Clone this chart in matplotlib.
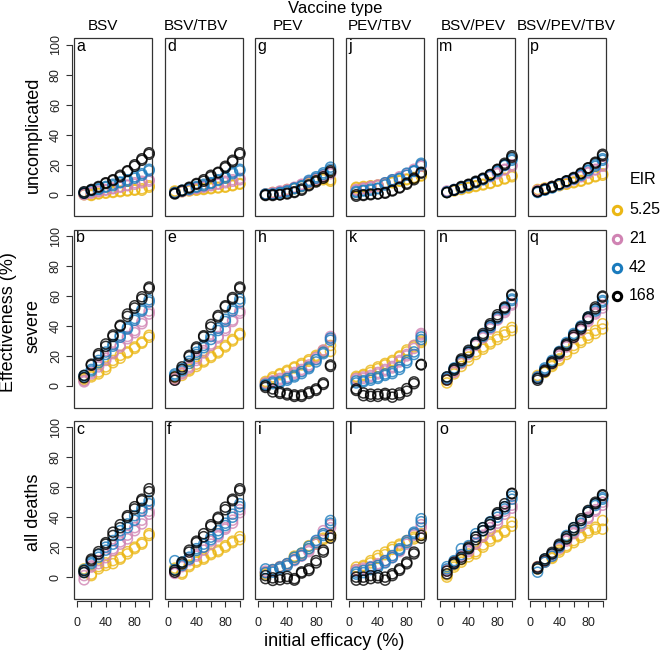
import matplotlib
matplotlib.use('Agg')
import matplotlib.pyplot as plt
from matplotlib.patches import Rectangle

plt.rcParams['font.family'] = ['Liberation Sans', 'DejaVu Sans']

## Data (effectiveness %, two simulation replicates per series)
efficacy = [10, 20, 30, 40, 50, 60, 70, 80, 90, 100]
eir_labels = ['5.25', '21', '42', '168']
vaccines = ['BSV', 'BSV/TBV', 'PEV', 'PEV/TBV', 'BSV/PEV', 'BSV/PEV/TBV']
outcomes = ['uncomplicated', 'severe', 'all deaths']

# BSV
a_y = [[0, 0, 0.5, 1, 1.5, 2, 2.5, 3, 4, 5], [0.5, -0.5, 1, 1.5, 2, 2.5, 3, 3.5, 3, 6]]
a_p = [[0.5, 1.5, 2.5, 3.5, 4, 5, 6, 7, 8, 9], [0, 1, 2, 3, 4.5, 5.5, 6.5, 8, 9, 10]]
a_b = [[1.5, 3, 4, 5, 6, 8, 10, 11, 14, 17], [1, 2.5, 3.5, 5.5, 7, 8.5, 9, 12, 13, 16]]
a_k = [[2, 3.5, 5.5, 8, 10, 13, 16, 20, 23, 28], [1, 3, 5, 7.5, 9.5, 12, 15.5, 19, 24, 27]]
b_y = [[4, 7, 9.3, 12.7, 17, 20.4, 22.7, 26, 29.3, 33.8], [5, 6, 8, 11, 15.5, 18.5, 22, 25, 28.5, 32.5]]
b_p = [[2.7, 8, 12.7, 17, 22.6, 26, 33, 37, 43, 50], [3.5, 9, 14, 18.5, 21.5, 27, 31.5, 35.5, 41.5, 48]]
b_b = [[7, 10, 17, 22.6, 27.7, 33.8, 38, 43.8, 50, 56], [6, 11, 15.5, 21, 26.5, 32.5, 39, 45, 51, 57.5]]
b_k = [[7, 13.8, 20.4, 26.4, 33, 39.8, 46.4, 52, 58, 66], [5.5, 14.5, 21.5, 28, 34, 40.5, 48, 53.5, 59.5, 65]]
c_y = [[4.4, 1, 5.5, 7.8, 9, 12, 15.5, 20, 22, 27.8], [5.5, 2, 7, 9.5, 11, 13, 17, 19, 23, 29]]
c_p = [[-1.8, 6.7, 9, 13, 17.8, 22, 25.5, 31, 35.5, 42], [1, 7.5, 11, 15, 19, 23.5, 28, 33, 38, 44]]
c_b = [[3.3, 8.9, 13.3, 20, 24.4, 31, 35.5, 41, 44, 51], [5, 10, 15, 18, 22, 28, 33, 38, 46, 49]]
c_k = [[4.4, 11, 15.5, 22, 27.8, 33, 40, 45.5, 52, 59], [3, 12, 17, 23, 30, 35, 41, 47, 51, 57]]
# BSV/TBV
d_y = [[2, 2, 3, 3, 4, 4, 5, 5, 6, 7], [2.5, 2.5, 2.5, 3.5, 3.5, 4.5, 4.5, 5.5, 6.5, 7.5]]
d_p = [[1, 2, 3, 4, 5, 6, 7, 8, 9, 10], [1.5, 2.5, 3.5, 4.5, 5.5, 6.5, 7.5, 9, 10, 11]]
d_b = [[1.5, 2.5, 4, 5, 6, 8, 10, 12, 14, 17], [1, 3, 3.5, 5.5, 7, 7.5, 9.5, 11, 15, 16]]
d_k = [[1, 3, 5, 7, 10, 12, 15, 19, 23, 28], [0.5, 2.5, 4.5, 7.5, 9, 13, 14.5, 18, 22, 27]]
e_y = [[5, 7, 10, 13, 16, 20, 23, 26, 30, 34], [6, 8.5, 11, 14.5, 17, 19, 22, 27, 31, 35]]
e_p = [[4, 9, 13, 17, 22, 27, 32, 37, 43, 50], [5, 8, 12, 18.5, 23.5, 28, 33, 38.5, 44, 48.5]]
e_b = [[7, 10, 15, 21, 27, 31, 37, 43, 50, 56], [8, 11.5, 16.5, 22.5, 25.5, 33, 38.5, 44.5, 51.5, 58]]
e_k = [[3.8, 12.7, 20.4, 26, 32.7, 39.3, 46, 52.7, 58, 66], [6, 11, 19.5, 25, 33.5, 41, 47, 53.5, 59, 65]]
f_y = [[5, 2, 7, 10, 13, 15, 18, 20, 24, 27], [6, 3, 8, 11, 12, 16, 17, 21, 23, 25]]
f_p = [[3, 7, 11, 15, 20, 24, 27, 32, 38, 43], [2.5, 8, 12, 14, 18, 22, 28, 33, 36, 45]]
f_b = [[11, 7.8, 13.3, 17.8, 20, 26.7, 31, 34.4, 40, 49], [5, 10, 12, 19, 22, 25, 29, 36, 42, 47]]
f_k = [[3.3, 8.9, 16.7, 24, 29, 33.8, 39, 46.7, 51, 57.8], [4.5, 10, 18, 23, 27, 35, 40, 45, 52, 59]]
# PEV
g_y = [[0.5, 1, 2, 3, 4.5, 6, 8, 10, 10, 9], [0, 1.5, 1.5, 3.5, 4, 5.5, 7.5, 9, 11, 10]]
g_p = [[0.5, 1, 2, 3, 5, 6.5, 9, 11, 13, 15], [0, 1.5, 2.5, 3.5, 4.5, 7, 8, 10, 12, 14]]
g_b = [[0, 0.3, 1, 2.6, 4.5, 6, 9.6, 12, 14.6, 18.4], [0.5, 0.5, 1.5, 2, 4, 5.5, 8.5, 11, 13.5, 17]]
g_k = [[0, 0, 0, 1, 2, 3.8, 6.6, 9.3, 11, 16], [-0.5, -0.5, 0, 0.5, 1.5, 3, 6, 8.5, 12, 15]]
h_y = [[3, 6, 8.2, 10.4, 12.7, 15, 17.5, 20.4, 23.7, 27], [2, 5, 7.5, 9.5, 12, 14, 16.5, 19.5, 22.5, 23]]
h_p = [[1, 3, 4, 5, 8, 10, 13, 18, 23, 33], [2, 3.5, 5, 6, 9, 11, 14, 19, 24, 31.5]]
h_b = [[0.4, 1.5, 2.2, 3.8, 6, 8.2, 11.5, 16, 21.5, 32], [1, 2.5, 3, 5, 7, 9.5, 12.5, 17.5, 22.5, 30.5]]
h_k = [[0, -4, -5, -6, -7, -6, -5, -3, 2, 14], [-1, -2, -4, -5, -6, -7, -4, -2, 1, 13]]
i_y = [[2, 4, 6, 9, 13, 15, 19, 22, 25, 27], [3, 5, 7, 8, 14, 16, 21, 23, 26, 28]]
i_p = [[3, 5, 7, 9, 11, 14, 17, 22, 29, 35], [4, 4, 6, 8, 12, 15, 18, 24, 31, 33]]
i_b = [[5.5, 3.3, 6.7, 9, 13.3, 14.4, 19, 23, 27.8, 37.8], [3, 5, 5.5, 7.5, 11.5, 16, 20.5, 24.5, 29, 36]]
i_k = [[-1, -2.2, -1.8, -1, -1, 2.7, 4.4, 11, 16.7, 26], [1, -0.5, 0, 0.5, -2, 3.5, 5.5, 9.5, 18, 28]]
# PEV/TBV
j_y = [[5, 5, 5.5, 6, 7, 8, 9, 10, 11, 13], [4.5, 5.5, 6, 6.5, 7.5, 8.5, 9.5, 10.5, 11.5, 12.5]]
j_p = [[3, 4, 5, 6, 7, 9, 11, 13, 16, 19], [3.5, 4.5, 5.5, 6.5, 8, 10, 12, 14, 17, 20]]
j_b = [[2.2, 3, 3.8, 4.4, 8, 10, 11, 14.4, 15.5, 20], [1.5, 2.5, 3, 4, 6.5, 9, 10.5, 13, 16, 21]]
j_k = [[-1, 0, 0, 0.7, 1.5, 3, 5, 7.7, 11, 14.4], [0, -0.5, 0.5, 0.5, 1, 2.5, 4.5, 7, 10, 15]]
k_y = [[6.4, 7.7, 10.4, 12.7, 15, 17, 19.3, 22.7, 27, 29], [5.5, 7, 9, 11.5, 14, 16, 20, 24, 26, 30]]
k_p = [[4, 5, 6, 8, 10, 13, 17, 21, 27, 34], [5, 6, 7, 9, 11, 12, 16, 20, 25, 35]]
k_b = [[3.3, 2.7, 3.8, 5, 7, 8.2, 11, 17, 22.7, 32.7], [2, 3.5, 5, 6, 8, 9.5, 12.5, 15.5, 21, 31]]
k_k = [[-3, -4.7, -5.5, -5.5, -5, -5.5, -4.7, -1.8, 2.7, 14.4], [-2, -6.5, -7, -7, -6, -7.5, -6, -3.5, 1.5, 14]]
l_y = [[6.7, 7.8, 11, 14.4, 16.7, 20, 22, 24.4, 26.7, 29], [5, 7, 9.5, 12.5, 15, 18.5, 21, 23.5, 25.5, 28]]
l_p = [[4, 5, 6, 8, 10, 13, 17, 22, 28, 35], [5, 6, 7, 9, 11, 14, 18, 24, 29, 33]]
l_b = [[3.3, 4.4, 6.7, 7.8, 11, 14.4, 19, 24.4, 30, 39], [2, 3, 5, 6.5, 9.5, 13, 18, 23, 29, 37]]
l_k = [[0, 0, 1, 1, 0, 2.2, 5.5, 8.9, 16.7, 27.8], [-2, -2, -1, -0.5, -2, 1, 4.5, 10, 15.5, 26]]
# BSV/PEV
m_y = [[2, 2.5, 3.5, 5, 6, 7, 8, 9, 11, 13], [1.5, 3, 4, 4.5, 5.5, 6.5, 7.5, 9.5, 10.5, 12]]
m_p = [[2, 3, 4.5, 6, 8, 10, 12, 14, 17, 19], [2.5, 3.5, 5, 6.5, 8.5, 10.5, 12.5, 15, 16.5, 20]]
m_b = [[1.5, 3, 5, 6.5, 8, 10, 12.5, 16, 20, 23], [2, 3.5, 4.5, 6, 8.5, 10.5, 13, 15.5, 19.5, 24]]
m_k = [[1.5, 3.3, 5, 6.6, 8.4, 11, 13.3, 16.6, 21, 26], [1.5, 3, 5.5, 7, 9, 10.5, 13.5, 17, 20, 25]]
n_y = [[3.8, 9.3, 15, 19.3, 22.7, 26, 29.3, 32.7, 36, 39], [2, 8, 13, 17, 21, 24.5, 28, 31, 34, 37]]
n_p = [[5, 10, 16, 22, 28, 33, 38, 44, 50, 54], [4, 9, 15, 21, 27, 32, 39, 45, 49, 55]]
n_b = [[5, 11, 17, 23, 29, 34, 40, 45, 51, 57], [6, 12, 16, 22, 28, 33, 39, 46, 52, 58]]
n_k = [[6, 11.5, 18, 23.8, 28, 33.8, 40.4, 46, 52.7, 60.4], [4, 10.5, 17, 22.5, 29, 35, 41.5, 47.5, 52, 61]]
o_y = [[0, 6.7, 10, 15.5, 15.5, 20, 25.5, 27.8, 31, 36.7], [1.5, 8, 11.5, 13.5, 17, 21.5, 24, 27, 30, 34]]
o_p = [[4, 10, 15, 18, 22, 27, 33, 38, 44, 48], [5, 9, 14, 17, 23, 28, 31, 36, 42, 46]]
o_b = [[5.5, 11, 19, 21, 29, 31, 35.5, 40, 45.5, 54], [7, 9, 15, 19, 27, 33, 37, 42, 47, 52]]
o_k = [[2.2, 8.9, 13.3, 19, 26.7, 33, 36.7, 42, 49, 55.6], [4, 10, 12, 20, 25, 31, 35, 43, 47, 56]]
# BSV/PEV/TBV
p_y = [[3, 4, 5, 6, 7, 8, 9.5, 11, 12, 14], [3.5, 4.5, 5.5, 6.5, 7.5, 8.5, 9, 10.5, 12.5, 13]]
p_p = [[2.5, 3.5, 5, 6.5, 8, 10, 12.5, 14.5, 17, 20], [3, 4, 5.5, 7, 8.5, 10.5, 12, 15, 16.5, 19]]
p_b = [[1.5, 3, 4.5, 6.5, 8.5, 10.5, 13, 16, 20, 24], [2, 3.5, 5, 7, 9, 11, 13.5, 16.5, 19, 23]]
p_k = [[2.2, 3.8, 5.5, 7.3, 9.3, 11.5, 14.4, 17.7, 21.7, 27], [2, 3.5, 5, 7, 9, 11, 14, 18, 21, 26]]
q_y = [[7, 10, 14, 18, 22.7, 27, 30.4, 33.8, 37, 41.5], [6, 9, 13, 17, 21, 25, 29, 32, 35, 38]]
q_p = [[6, 10, 16, 21, 27, 33, 38, 44, 48, 52], [5, 11, 15, 20, 26, 32, 37, 43, 49, 54]]
q_b = [[6, 11, 17, 23, 29, 35, 40, 45, 50, 56], [5, 12, 16, 22, 28, 34, 39, 46, 51, 57]]
q_k = [[3.8, 10.4, 16, 21.5, 27, 33.8, 39.3, 46, 52.7, 59.3], [5, 9.5, 15, 22.5, 28, 32.5, 38, 45, 51.5, 60]]
r_y = [[5.5, 11, 13.3, 16.7, 21, 24.4, 27.8, 31, 33.3, 37.8], [7, 10, 12.5, 18, 20, 23, 26.5, 29.5, 32, 32]]
r_p = [[7, 11, 15, 20, 25, 30, 35, 40, 45, 48], [6, 10, 14, 19, 24, 29, 34, 39, 44, 50]]
r_b = [[3.3, 10, 15.5, 21, 27.8, 33, 37.8, 43.3, 47.8, 52], [6, 12, 14, 20, 26, 31, 36, 44, 49, 53]]
r_k = [[6.7, 12.2, 15.5, 22, 25.5, 33, 37.8, 43.3, 50, 54.4], [5.5, 11, 16.5, 21, 27, 31.5, 39, 44.5, 49, 55]]

panels = {
    'a': (a_y, a_p, a_b, a_k), 'b': (b_y, b_p, b_b, b_k), 'c': (c_y, c_p, c_b, c_k),
    'd': (d_y, d_p, d_b, d_k), 'e': (e_y, e_p, e_b, e_k), 'f': (f_y, f_p, f_b, f_k),
    'g': (g_y, g_p, g_b, g_k), 'h': (h_y, h_p, h_b, h_k), 'i': (i_y, i_p, i_b, i_k),
    'j': (j_y, j_p, j_b, j_k), 'k': (k_y, k_p, k_b, k_k), 'l': (l_y, l_p, l_b, l_k),
    'm': (m_y, m_p, m_b, m_k), 'n': (n_y, n_p, n_b, n_k), 'o': (o_y, o_p, o_b, o_k),
    'p': (p_y, p_p, p_b, p_k), 'q': (q_y, q_p, q_b, q_k), 'r': (r_y, r_p, r_b, r_k),
}
letters = 'abcdefghijklmnopqr'
colors = ['#EBB715', '#D083B3', '#1A7BBD', '#000000']

## Layout (pixel based)
W, H = 661, 653
fig = plt.figure(figsize=(W / 100, H / 100), dpi=100)
box_c = '#333333'

def px_axes(left, top, w, h):
    return fig.add_axes([left / W, 1 - (top + h) / H, w / W, h / H])

for ci in range(6):
    for ri in range(3):
        letter = letters[ci * 3 + ri]
        ax = px_axes(74 + 90.7 * ci, 38.3 + 191.2 * ri, 78, 178)
        for col, series in zip(colors, panels[letter]):
            for rep in series:
                ax.scatter(efficacy, rep, s=52, facecolors='none', edgecolors=col,
                           linewidths=1.1, alpha=0.8, clip_on=False)
        ax.set_xlim(-4, 104)
        ax.set_ylim(-14.4, 104.4)
        for sp in ax.spines.values():
            sp.set_visible(False)
        ax.add_patch(Rectangle((0, 0), 1, 1, transform=ax.transAxes, fill=False,
                               lw=0.9, ec=box_c, clip_on=False, zorder=5))
        ax.tick_params(length=4.5, width=0.8, color=box_c, labelsize=9, labelcolor='#222222')
        if ci == 0:
            ax.spines['left'].set_visible(True)
            ax.spines['left'].set_position(('outward', 1.2))
            ax.spines['left'].set_bounds(0, 100)
            ax.spines['left'].set_color(box_c)
            ax.spines['left'].set_linewidth(0.8)
            ax.set_yticks([0, 20, 40, 60, 80, 100])
            ax.set_yticklabels(['0', '20', '40', '60', '80', '100'], rotation=90, va='center')
            ax.tick_params(axis='y', pad=3)
        else:
            ax.set_yticks([])
        if ri == 2:
            ax.spines['bottom'].set_visible(True)
            ax.spines['bottom'].set_position(('outward', 1.5))
            ax.spines['bottom'].set_bounds(0, 100)
            ax.spines['bottom'].set_color(box_c)
            ax.spines['bottom'].set_linewidth(0.8)
            ax.set_xticks([0, 20, 40, 60, 80, 100])
            ax.set_xticklabels(['0', '', '40', '', '80', ''])
            ax.tick_params(axis='x', pad=7)
        else:
            ax.set_xticks([])
        ax.text(0.03, 0.995, letter, transform=ax.transAxes, ha='left', va='top', fontsize=11.5)

## Annotations on an overlay in pixel coordinates
ov = fig.add_axes([0, 0, 1, 1])
ov.set_xlim(0, W)
ov.set_ylim(H, 0)
ov.axis('off')
ov.patch.set_visible(False)

ov.text(335, 8, 'Vaccine type', ha='center', va='center', fontsize=12)
title_x = [103, 196, 288, 380, 473, 566]
for tx, name in zip(title_x, vaccines):
    ov.text(tx, 26, name, ha='center', va='center', fontsize=11)
row_y = [135, 326, 512]
for ry, name in zip(row_y, outcomes):
    ov.text(33, ry, name, ha='center', va='center', rotation=90, fontsize=13)
ov.text(9, 322, 'Effectiveness (%)', ha='center', va='center', rotation=90, fontsize=13)
ov.text(334, 641, 'initial efficacy (%)', ha='center', va='center', fontsize=13)

ov.text(630, 180, 'EIR', ha='left', va='center', fontsize=11.5)
leg_y = [210, 238.5, 267.5, 296]
for ly, col, lab in zip(leg_y, colors, eir_labels):
    ov.plot(617, ly, 'o', mfc='none', mec=col, ms=6, mew=2.2)
    ov.text(629, ly, lab, ha='left', va='center', fontsize=11.5)

fig.savefig('out.png', dpi=100)
